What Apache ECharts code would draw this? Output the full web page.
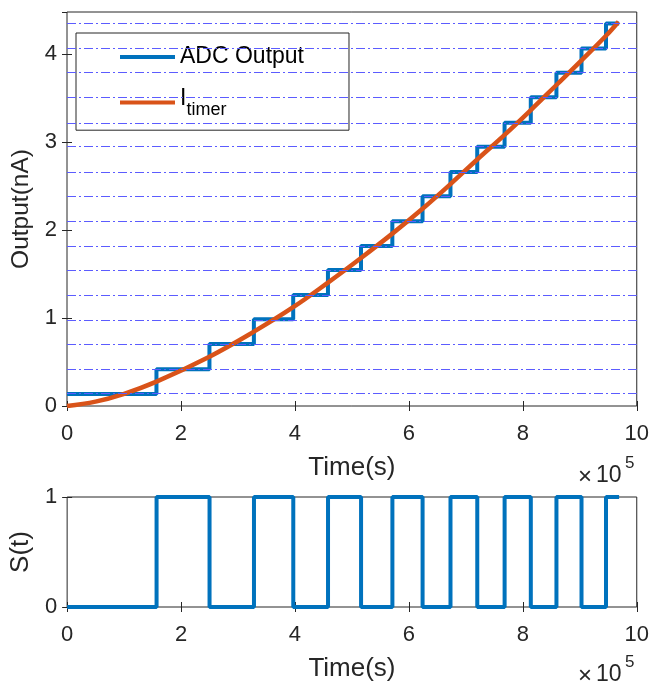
<!DOCTYPE html>
<html><head><meta charset="utf-8">
<script src="https://cdn.jsdelivr.net/npm/echarts@6/dist/echarts.min.js"></script>
<style>html,body{margin:0;padding:0;background:#fff}#c{width:652px;height:686px}</style>
</head><body><div id="c"></div>
<script>
// ---- data (x in units of 1e5 s) ----
const stepTimes = [0, 1.57, 2.50, 3.28, 3.97, 4.58, 5.16, 5.71, 6.24, 6.73, 7.20, 7.68, 8.14, 8.59, 9.03, 9.46, 9.69];
const adcLevels = [0.137, 0.417, 0.705, 0.985, 1.261, 1.545, 1.82, 2.10, 2.386, 2.66, 2.947, 3.22, 3.51, 3.79, 4.065, 4.35];
const sValues   = [0, 1, 0, 1, 0, 1, 0, 1, 0, 1, 0, 1, 0, 1, 0, 1];
const timerT = [0, 0.5, 0.99, 1.57, 2.50, 3.28, 3.97, 4.58, 5.16, 5.71, 6.24, 6.73, 7.20, 7.68, 8.14, 8.59, 9.03, 9.46, 9.68];
const timerI = [0, 0.05, 0.136, 0.277, 0.561, 0.845, 1.123, 1.403, 1.683, 1.96, 2.243, 2.523, 2.803, 3.083, 3.365, 3.65, 3.93, 4.21, 4.37];
const xTicks = [0, 2, 4, 6, 8, 10];
const yTicksTop = [0, 1, 2, 3, 4];
const yTicksBottom = [0, 1];

const adcData = adcLevels.map((v, i) => [stepTimes[i], v]);
adcData.push([stepTimes[stepTimes.length - 1], adcLevels[adcLevels.length - 1]]);
const sData = sValues.map((v, i) => [stepTimes[i], v]);
sData.push([stepTimes[stepTimes.length - 1], sValues[sValues.length - 1]]);
const timerData = timerT.map((t, i) => [t, timerI[i]]);

const FONT = '"Liberation Sans", Arial, Helvetica, sans-serif';
const TXT = '#262626';
const BLUE = '#0072BD';
const ORANGE = '#D95319';

function xAx(grid, pos, withLabels) {
  return {
    type: 'value', gridIndex: grid, position: pos,
    min: 0, max: 10, interval: 2,
    axisLine: { show: false },
    axisTick: { show: true, inside: true, length: 5, lineStyle: { color: TXT, width: 1 } },
    axisLabel: withLabels ? { show: true, margin: 17, fontSize: 22, fontFamily: FONT, color: TXT,
      formatter: v => xTicks.includes(v) ? String(v) : '' } : { show: false },
    splitLine: { show: false },
    name: withLabels ? 'Time(s)' : '', nameLocation: 'middle', nameGap: withLabels ? 49 : 0,
    nameTextStyle: { fontSize: 26, fontFamily: FONT, color: TXT }
  };
}
function yAx(grid, pos, max, ticks, withLabels, name, nameGap, nameSize) {
  return {
    type: 'value', gridIndex: grid, position: pos,
    min: 0, max: max, interval: 1,
    axisLine: { show: false },
    axisTick: { show: true, inside: true, length: 5, lineStyle: { color: TXT, width: 1 } },
    axisLabel: withLabels ? { show: true, margin: 10, fontSize: 22, fontFamily: FONT, color: TXT,
      showMaxLabel: ticks.includes(max),
      formatter: v => ticks.includes(v) ? String(v) : '' } : { show: false },
    splitLine: { show: false },
    name: withLabels ? name : '', nameLocation: 'middle', nameGap: nameGap, nameRotate: 90,
    nameTextStyle: { fontSize: nameSize, fontFamily: FONT, color: TXT }
  };
}

const chart = echarts.init(document.getElementById('c'), null, { renderer: 'canvas' });
chart.setOption({
  animation: false,
  backgroundColor: '#ffffff',
  grid: [
    { left: 67, right: 15, top: 12, height: 394, show: true, borderColor: TXT, borderWidth: 1, backgroundColor: 'transparent' },
    { left: 67, right: 15, top: 497, height: 110, show: true, borderColor: TXT, borderWidth: 1, backgroundColor: 'transparent' }
  ],
  xAxis: [xAx(0, 'bottom', true), xAx(0, 'top', false), xAx(1, 'bottom', true), xAx(1, 'top', false)],
  yAxis: [
    yAx(0, 'left', 4.48, yTicksTop, true, 'Output(nA)', 30, 24.5),
    yAx(0, 'right', 4.48, yTicksTop, false, '', 0, 24),
    yAx(1, 'left', 1, yTicksBottom, true, 'S(t)', 32, 26),
    yAx(1, 'right', 1, yTicksBottom, false, '', 0, 24)
  ],
  legend: {
    data: ['ADC Output', 'I_timer'],
    orient: 'vertical', left: 76, top: 33,
    padding: [9, 45, 11, 44], itemGap: 15,
    itemWidth: 55, itemHeight: 4, icon: 'rect',
    backgroundColor: '#ffffff', borderColor: TXT, borderWidth: 1, borderRadius: 0,
    selectedMode: false,
    textStyle: {
      fontSize: 23, fontFamily: FONT, color: '#000', lineHeight: 30,
      rich: {
        a: { fontSize: 23, fontFamily: FONT, color: '#000', height: 22, verticalAlign: 'top' },
        b: { fontSize: 18, fontFamily: FONT, color: '#000', height: 14.6, verticalAlign: 'bottom' }
      }
    },
    formatter: name => name === 'I_timer' ? '{a|I}{b|timer}' : name
  },
  series: [
    {
      name: 'levels', type: 'line', xAxisIndex: 0, yAxisIndex: 0,
      data: [[0, adcLevels[0]]], symbol: 'none', lineStyle: { opacity: 0 }, silent: true, z: 1,
      markLine: {
        silent: true, symbol: ['none', 'none'], label: { show: false },
        lineStyle: { color: '#5c5cff', width: 1, type: [9, 3, 2, 3] },
        emphasis: { disabled: true },
        data: adcLevels.map(v => ({ yAxis: v }))
      }
    },
    {
      name: 'ADC Output', type: 'line', xAxisIndex: 0, yAxisIndex: 0,
      data: adcData, step: 'end', showSymbol: false, symbol: 'none',
      color: BLUE, lineStyle: { color: BLUE, width: 4 }, z: 3
    },
    {
      name: 'I_timer', type: 'line', xAxisIndex: 0, yAxisIndex: 0,
      data: timerData, smooth: 0.4, showSymbol: false, symbol: 'none',
      color: ORANGE, lineStyle: { color: ORANGE, width: 4.5 }, z: 4
    },
    {
      name: 'S(t)', type: 'line', xAxisIndex: 2, yAxisIndex: 2,
      data: sData, step: 'end', showSymbol: false, symbol: 'none', clip: false,
      color: BLUE, lineStyle: { color: BLUE, width: 4 }, z: 3
    }
  ],
  graphic: [
    { type: 'text', x: 578, y: 477, style: { text: '×', fontSize: 24, fontFamily: FONT, fill: TXT, verticalAlign: 'middle' } },
    { type: 'text', x: 596, y: 476, style: { text: '10', fontSize: 23, fontFamily: FONT, fill: TXT, verticalAlign: 'middle' } },
    { type: 'text', x: 625, y: 463, style: { text: '5', fontSize: 17, fontFamily: FONT, fill: TXT, verticalAlign: 'middle' } },
    { type: 'text', x: 578, y: 676, style: { text: '×', fontSize: 24, fontFamily: FONT, fill: TXT, verticalAlign: 'middle' } },
    { type: 'text', x: 596, y: 675, style: { text: '10', fontSize: 23, fontFamily: FONT, fill: TXT, verticalAlign: 'middle' } },
    { type: 'text', x: 625, y: 662, style: { text: '5', fontSize: 17, fontFamily: FONT, fill: TXT, verticalAlign: 'middle' } }
  ]
});
</script>
</body></html>
